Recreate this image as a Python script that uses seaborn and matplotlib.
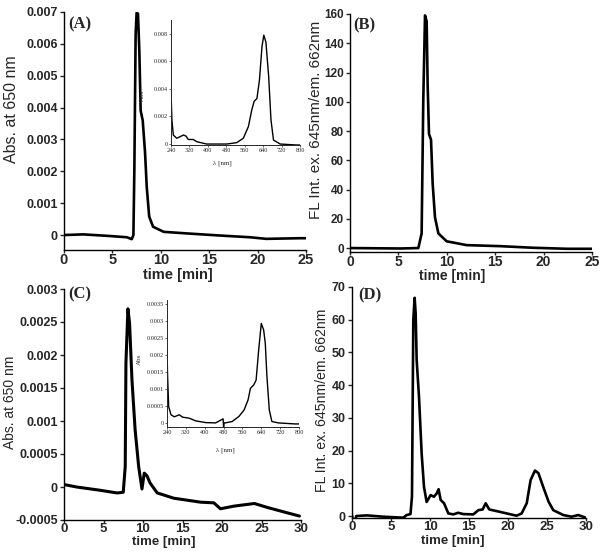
import numpy as np
import pandas as pd
import matplotlib
matplotlib.use("Agg")
import matplotlib.pyplot as plt
from matplotlib.ticker import MultipleLocator, FuncFormatter
import seaborn as sns

sns.set_style("ticks")
plt.rcParams['font.family'] = ['Liberation Sans', 'DejaVu Sans']
plt.rcParams['axes.unicode_minus'] = False

# (A) absorbance chromatogram at 650 nm
a_time = [0, 2.0, 4.7, 6.5, 7.0, 7.17, 7.27, 7.4, 7.5, 7.64, 7.78, 7.92, 8.13, 8.37, 8.55,
          8.8, 9.2, 10.3, 12.7, 15.8, 19.2, 20.9, 24.4, 25]
a_abs = [0, 0.00002, -0.00003, -0.00007, -0.00013, 0, 0.0021, 0.0063, 0.00697, 0.00695,
         0.0058, 0.0039, 0.0036, 0.0026, 0.0015, 0.00058, 0.00026, 0.0001, 0.00005,
         -0.00001, -0.00007, -0.00012, -0.0001, -0.0001]

# (A) inset spectrum
a_wl = [240, 244, 250, 265, 279, 294, 305, 315, 337, 352, 395, 482, 525, 554, 576, 591,
        601, 613, 624, 635, 643, 652, 664, 674, 685, 714, 784, 800]
a_spec = [0.0038, 0.00175, 0.00065, 0.00042, 0.00053, 0.00065, 0.00058, 0.00033, 0.00033,
          0.00017, 0, 0, 0.0001, 0.00042, 0.00127, 0.0025, 0.0031, 0.0033, 0.00465, 0.00708,
          0.0079, 0.0074, 0.0049, 0.00175, 0.00029, 0, -0.00007, -0.00007]

# (B) fluorescence chromatogram
b_time = [0, 5.2, 7.06, 7.4, 7.57, 7.75, 7.92, 8.02, 8.16, 8.37, 8.54, 8.78, 9.13, 9.99,
          12.05, 15.5, 18.9, 22.4, 25]
b_fl = [0, -0.3, 0, 10, 101, 159, 155, 112, 78, 74, 44, 21, 10, 4.6, 2.0, 1.3, 0.2, -0.5, -0.5]

# (C) absorbance chromatogram at 650 nm
c_time = [0.1, 1.6, 4.6, 6.7, 7.5, 7.75, 7.84, 8.09, 8.3, 8.6, 9.0, 9.45, 9.87, 10.16,
          10.5, 10.9, 11.8, 13.9, 17.3, 18.97, 19.8, 21.5, 24.1, 25.75, 27.9, 29.8]
c_abs = [0.000035, 0, -0.00005, -0.00009, -0.00008, 0.00031, 0.00188, 0.0027, 0.00248,
         0.00163, 0.00087, 0.00031, -0.00003, 0.00021, 0.00017, 0.00006, -0.00009,
         -0.00017, -0.00023, -0.00024, -0.00033, -0.00029, -0.00025, -0.00031, -0.00038,
         -0.00044]

# (C) inset spectrum
c_wl = [240, 242, 247, 257, 271, 292, 306, 334, 362, 404, 446, 478, 480, 482, 486, 516,
        545, 567, 584, 594, 608, 618, 629, 640, 650, 657, 664, 674, 685, 713, 783, 800]
c_spec = [0.00224, 0.0015, 0.00048, 0.00024, 0.00018, 0.00024, 0.00017, 0.00014, 0.00006,
          0.00001, 0, 0.00012, -0.00012, 0, 0, 0.00004, 0.00019, 0.00038, 0.00068, 0.00102,
          0.00112, 0.00126, 0.00215, 0.00293, 0.00274, 0.00234, 0.00136, 0.00038, 0.00004,
          0, -0.00003, -0.00003]

# (D) fluorescence chromatogram
d_time = [0, 0.13, 0.4, 0.55, 1.9, 4.0, 6.6, 7.0, 7.5, 7.69, 7.86, 8.03, 8.16, 8.29, 8.59,
          8.93, 9.23, 9.57, 10.08, 10.5, 10.86, 11.1, 11.37, 11.8, 12.35, 13.0, 13.6, 14.27,
          15.55, 16.2, 16.75, 17.14, 17.6, 18.55, 19.83, 21.1, 21.75, 22.4, 22.9, 23.46,
          23.9, 24.5, 25.2, 25.8, 27.1, 28.15, 29.0, 29.86]
d_fl = [0.3, -1.5, -1.2, 0, 0.2, -0.2, -0.5, 0.3, 0.6, 6, 60, 66.7, 62, 47.7, 36.4, 19.1,
        8.9, 4.3, 6.4, 5.9, 6.9, 8.2, 4.9, 3.9, 0.8, 0.5, 1.0, 0.6, 0.5, 1.8, 2.0, 3.9, 2.0,
        1.5, 0.8, 0.1, 0.8, 3.9, 11, 13.9, 13.1, 9.0, 4.4, 1.8, 0.3, -0.2, 0.3, -0.4]

fig = plt.figure(figsize=(6.04, 5.58), dpi=100)
W, H = 604, 558


def px_axes(l, t, r, b):
    return fig.add_axes([l / W, 1 - b / H, (r - l) / W, (b - t) / H])


def fmt(v, pos):
    return f"{v:g}"


def main_panel(ax, x, y, xlim, ylim, xstep, ystep, ylabel, letter, lab_pos,
               ylab_xy, xlab_xy, ysize, xsize, ytick=9, lw=1.9):
    sns.lineplot(x=x, y=y, ax=ax, color="black", lw=lw, estimator=None, sort=False)
    ax.set_xlim(*xlim)
    ax.set_ylim(*ylim)
    ax.xaxis.set_major_locator(MultipleLocator(xstep))
    ax.yaxis.set_major_locator(MultipleLocator(ystep))
    ax.yaxis.set_major_formatter(FuncFormatter(fmt))
    sns.despine(ax=ax)
    for s in ["left", "bottom"]:
        ax.spines[s].set_linewidth(1.0)
        ax.spines[s].set_color("black")
    ax.tick_params(axis="y", labelsize=ytick, length=3, width=1, pad=1.5)
    ax.tick_params(axis="x", labelsize=xsize, length=2, width=1, pad=0.3)
    for t in ax.get_xticklabels() + ax.get_yticklabels():
        t.set_fontweight("bold")
    ax.set_ylabel(ylabel, fontsize=ysize)
    ax.yaxis.set_label_coords(*ylab_xy)
    ax.set_xlabel("time [min]", fontsize=xsize, fontweight="bold")
    ax.xaxis.set_label_coords(*xlab_xy)
    ax.text(lab_pos[0], lab_pos[1], letter, transform=ax.transAxes, ha="left",
            va="center", fontsize=12, fontweight="bold", family="Liberation Serif")


def inset(ax, x, y, ylim, ystep, ylab_xy, xlab_xy):
    sns.lineplot(x=x, y=y, ax=ax, color="black", lw=1.0, estimator=None, sort=False)
    ax.set_xlim(240, 800)
    ax.set_ylim(*ylim)
    ax.set_facecolor("none")
    ax.xaxis.set_major_locator(MultipleLocator(80))
    ax.yaxis.set_major_locator(MultipleLocator(ystep))
    ax.yaxis.set_major_formatter(FuncFormatter(fmt))
    sns.despine(ax=ax)
    for s in ["left", "bottom"]:
        ax.spines[s].set_linewidth(0.7)
    ax.tick_params(labelsize=4.5, length=1.5, width=0.5, pad=1)
    for t in ax.get_xticklabels() + ax.get_yticklabels():
        t.set_family("Liberation Serif")
    ax.set_ylabel("Abs", fontsize=5, family="Liberation Serif")
    ax.yaxis.set_label_coords(*ylab_xy)
    ax.set_xlabel("λ [nm]", fontsize=5, family="Liberation Serif")
    ax.xaxis.set_label_coords(*xlab_xy)


axA = px_axes(64, 12, 306, 250)
main_panel(axA, a_time, a_abs, (0, 25), (-0.00047, 0.007), 5, 0.001, "Abs. at 650 nm",
           "(A)", (0.017, 0.95), (-0.185, 0.59), (0.47, -0.075), 11.5, 10.5)

axB = px_axes(350, 14, 592, 252)
main_panel(axB, b_time, b_fl, (0, 25), (-2.7, 160), 5, 20,
           "FL Int. ex. 645nm/em. 662nm", "(B)", (0.012, 0.954), (-0.112, 0.555),
           (0.42, -0.072), 11, 10, ytick=8.5)

axC = px_axes(64, 289, 301, 520)
main_panel(axC, c_time, c_abs, (0, 30), (-0.0005, 0.003), 5, 0.0005, "Abs. at 650 nm",
           "(C)", (0.017, 0.975), (-0.198, 0.51), (0.42, -0.068), 10, 9.5, lw=2.2)

axD = px_axes(352, 287, 586, 518)
main_panel(axD, d_time, d_fl, (0, 30), (-0.6, 70), 5, 10,
           "FL Int. ex. 645nm/em. 662nm", "(D)", (0.026, 0.965), (-0.10, 0.51),
           (0.43, -0.075), 10.2, 9.5)

insA = px_axes(171, 20, 300, 145)
inset(insA, a_wl, a_spec, (-0.00007, 0.009), 0.002, (-0.2, 0.4), (0.40, -0.12))

insC = px_axes(167, 300, 299, 427)
inset(insC, c_wl, c_spec, (-0.00012, 0.00362), 0.0005, (-0.19, 0.53), (0.44, -0.16))

fig.savefig("out.png", dpi=100)
